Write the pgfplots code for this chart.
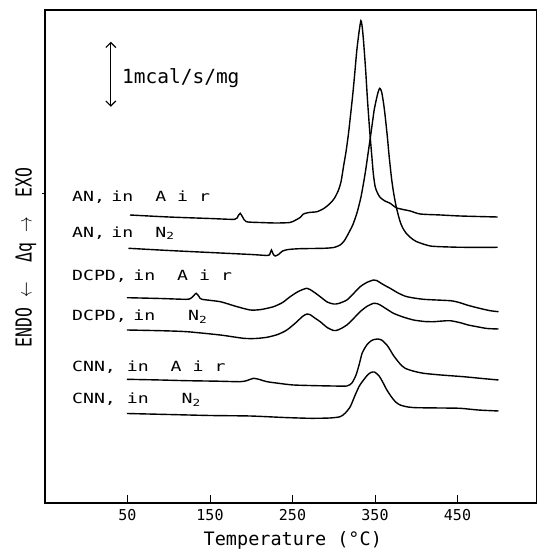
\documentclass[border=0pt]{standalone}
\usepackage{pgfplots}
\pgfplotsset{compat=1.18}
\usepackage{fontspec}
\setmainfont{DejaVu Sans Mono}
\usepackage{graphicx}
\usetikzlibrary{arrows.meta}
\newcommand\lab[1]{\scalebox{1.3}[1]{\fontsize{14}{14}\selectfont #1}}

\pgfplotstableread{
T y
53 288
100 286
150 284.5
180 283.7
184 287
186.6 289.7
189.5 286
193.9 281.3
210 280.5
230 280
247 280.5
254 283
259.3 285.5
263.3 289
270 290.5
279.6 291.3
288 294.5
295.7 299.7
301 305
305.8 313
309 322
311.8 336.3
315 352
317.9 369.7
320.5 389
323.2 409.7
325.6 431
328 453
330.5 470
332.9 482.3
334.5 476
336 463
338.5 435
340.9 403
343.5 373
346.2 346.3
348 329
350.2 316.3
353 310
356.3 305.5
362 302
368.4 299.7
376.5 295
392.7 292
404.8 289
430 288
453.3 287
498.5 286
}\anair

\pgfplotstableread{
T y
51.2 254.7
100 252.5
150 250.5
200 248.5
219 247.5
222 248
224.5 253
226.5 249
229 247
233 248.5
238 252
245 253.5
259 254.3
287.6 254.7
300 255.5
307.8 258
313 262.5
317.9 269.7
323 278
328 289.7
333 306
338.1 329.7
342 352
346.2 376.3
349 393
351.5 403
353.5 410
355.5 414.7
357 413.5
358.4 409.7
360.5 399
362.4 386.3
365 366
367.2 346.3
370 325
372.4 311
375.5 297
378.5 287
381 280
384 274.5
388 269.5
393 265.5
400 261.5
417 257
440 256
457.3 255.7
498.5 255.7
}\annt

\pgfplotstableread{
T y
49.3 205.3
90 204.5
122 203.7
128 205.5
133.3 209.7
137 206
140.2 203.7
162.4 201.3
180 197
198.7 193
212 193.5
227 196.3
238 200.5
247.2 206.3
257 211.5
267.5 214.7
275 211.5
283.6 206.3
292 201
299.7 199
306 199.5
315.9 203
324 209.5
332 216.3
340 220.5
348.2 223
352 222.5
356.3 220.3
362 217.5
368.4 214.7
378 210
388.7 206.3
408.8 203.7
441.2 202.3
452 200.5
461.4 198
475 195
489.6 192.3
499.7 191.3
}\dcair

\pgfplotstableread{
T y
49.3 173
90 172.3
122 171.3
162.4 168
190.6 164.7
205 164.5
219 165.7
232 168.5
243.2 173
255 181
262 186.5
267.5 189
272 188
277 185
283.6 181.3
292 175.5
299.7 172.5
303 172.5
309 174.5
315.9 178
324 184.5
332 191.3
340 196.5
348.2 199.7
352 199.5
356.3 198
364 194
372.4 189.7
384 186
396.7 183
410 181.5
420.9 181.3
432 182
441.2 182.3
453.3 180.3
463 178
473.5 176.3
486 174.5
499.7 174
}\dcnt

\pgfplotstableread{
T y
49.3 123.7
90 123
122 122.3
160 121.8
186.6 121.3
195 122.5
202.7 124.7
210 123.5
219 121.3
235 119.5
251.2 118
280 117.3
300 117
315.9 117
322 120
327 128
331 139
334.5 150
340 158
345 162
349 163.5
353 164
358 163
364.4 158
368.4 153
372 148
376.5 143
381 138.5
386.6 134.7
396 132
408.8 129.7
430 128
457.3 126.3
480 124.5
499.7 123
}\cnair

\pgfplotstableread{
T y
49.3 89.5
100 88.5
150 87.5
198.7 87
240 85.5
271.4 84.7
295 85
307.8 86.3
314 90
320 96.3
326 108
331 117
336.1 123
341 128
345 130.5
349.5 131
355 127
359 121.5
364.4 113
370 106
375 101
380.5 98
390 96
400.8 95.3
430 95
453.3 94.7
475 93
499.7 92
}\cnnt

\begin{document}
\begin{tikzpicture}
\begin{axis}[
  scale only axis, width=491.7pt, height=493pt,
  xmin=-50, xmax=546, ymin=0, ymax=493,
  axis line style={line width=1.2pt},
  xtick={50,150,250,350,450},
  xticklabels={50,150,250,350,450},
  ytick=\empty,
  tick pos=left, tick align=inside,
  major tick length=8pt,
  tick style={line width=1pt, black},
  xticklabel style={font=\fontsize{15}{15}\selectfont, anchor=north, inner sep=0pt, yshift=-6pt},
  curve/.style={black, line width=1.4pt, smooth, tension=0.4, mark=none},
  clip=false,
]
\addplot[curve] table[x=T,y=y] {\anair};
\addplot[curve] table[x=T,y=y] {\annt};
\addplot[curve] table[x=T,y=y] {\dcair};
\addplot[curve] table[x=T,y=y] {\dcnt};
\addplot[curve] table[x=T,y=y] {\cnair};
\addplot[curve] table[x=T,y=y] {\cnnt};

\node[anchor=base west, inner sep=0pt] at (axis cs:-17.4,301.3) {\lab{AN,\hspace{5pt}in~~A~i~r}};
\node[anchor=base west, inner sep=0pt] at (axis cs:-17.4,265.7) {\lab{AN,\hspace{5pt}in~~N\textsubscript{2}}};
\node[anchor=base west, inner sep=0pt] at (axis cs:-17.4,222.3) {\lab{DCPD,\hspace{5pt}in~~A~i~r}};
\node[anchor=base west, inner sep=0pt] at (axis cs:-17.4,182.3) {\lab{DCPD,\hspace{5pt}in~~~N\textsubscript{2}}};
\node[anchor=base west, inner sep=0pt] at (axis cs:-17.4,131.3) {\lab{CNN,~in~~A~i~r}};
\node[anchor=base west, inner sep=0pt] at (axis cs:-17.4,99) {\lab{CNN,~in~~~N\textsubscript{2}}};

\draw[{Straight Barb[length=5pt]}-{Straight Barb[length=5pt]}, line width=1.2pt] (axis cs:29.8,396.2) -- (axis cs:29.8,461.3);
\node[anchor=base west, inner sep=0pt, font=\fontsize{19.5}{19.5}\selectfont] at (axis cs:43.2,419) {1mcal/s/mg};

\node[anchor=base, inner sep=0pt, font=\fontsize{18.5}{18.5}\selectfont] at (rel axis cs:0.504,-0.0872) {Temperature (°C)};
\node[anchor=base, rotate=90, inner sep=0pt] at (rel axis cs:-0.02705,0.498) {\scalebox{0.75}[1]{\fontsize{22}{22}\selectfont ENDO~$\leftarrow$~~Δq~$\rightarrow$~~EXO}};
\draw[line width=1pt] (axis cs:-50,309.7) -- (axis cs:-53.5,309.7);
\end{axis}
\pgfresetboundingbox
\path (-45pt,-49pt) rectangle (496pt,503pt);
\end{tikzpicture}
\end{document}
